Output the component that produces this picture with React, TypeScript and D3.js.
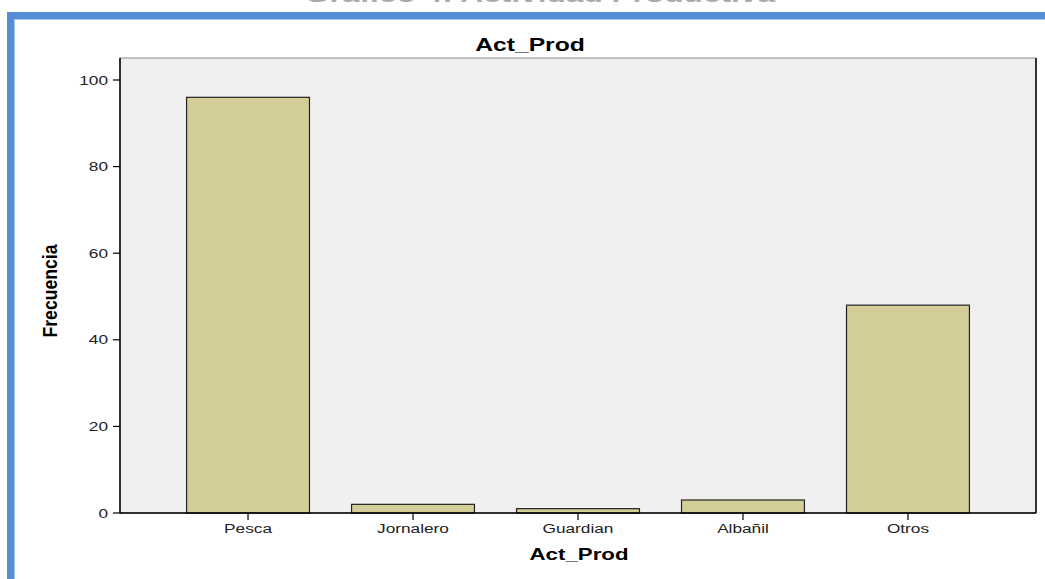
import React from "react";
import * as d3 from "d3";

const categories = ["Pesca", "Jornalero", "Guardian", "Albañil", "Otros"];
const frequencies = [96, 2, 1, 3, 48];
const yTicks = [0, 20, 40, 60, 80, 100];
const chartTitle = "Act_Prod";
const xTitle = "Act_Prod";
const yTitle = "Frecuencia";
const pageTitle = "Gráfico 4: Actividad Productiva";

export default function App() {
  const W = 1045, H = 579;
  const left = 120, right = 1036, top = 58, bottom = 513;
  const x = d3.scaleBand<string>().domain(categories).range([left, right]).paddingInner(0.255).paddingOuter(0.4035);
  const y = d3.scaleLinear().domain([0, 100]).range([bottom, 80]);
  const font = "Arial, 'Liberation Sans', sans-serif";
  const sx = 1.38;
  return (
    <svg width={W} height={H} style={{ position: "absolute", left: 0, top: 0, background: "#fff" }}>
      <text x={540} y={1.5} textAnchor="middle" textLength={470} lengthAdjust="spacingAndGlyphs" fontFamily={font} fontSize={20} fontWeight="bold" fill="#aaa">{pageTitle}</text>
      <rect x={7} y={12} width={W} height={7} fill="#558ED5" />
      <rect x={7} y={12} width={7} height={H} fill="#558ED5" />
      <rect x={14} y={19} width={W} height={1} fill="#A9C6EC" />
      <rect x={14} y={19} width={1} height={H} fill="#A9C6EC" />
      <g transform={`translate(530,51) scale(1.3,1)`}>
        <text x={0} y={0} textAnchor="middle" fontFamily={font} fontSize={19} fontWeight="bold" fill="#000">{chartTitle}</text>
      </g>
      <rect x={left} y={top} width={right - left} height={bottom - top} fill="#F0F0F0" stroke="#8a8a8a" strokeWidth={1} />
      <line x1={right} y1={top} x2={right} y2={bottom} stroke="#333" strokeWidth={2} />
      {categories.map((c, i) => (
        <rect key={c} x={x(c)} y={y(frequencies[i])} width={x.bandwidth()} height={bottom - y(frequencies[i])}
          fill="#D3CE97" stroke="#222" strokeWidth={1.2} />
      ))}
      <line x1={left} y1={top} x2={left} y2={bottom} stroke="#000" strokeWidth={1.5} />
      <line x1={left} y1={bottom} x2={right} y2={bottom} stroke="#000" strokeWidth={1.5} />
      {yTicks.map(t => (
        <g key={t}>
          <line x1={113} x2={left} y1={y(t)} y2={y(t)} stroke="#000" strokeWidth={1.2} />
          <g transform={`translate(108,${y(t) + 4.5}) scale(${sx},1)`}>
            <text x={0} y={0} textAnchor="end" fontFamily={font} fontSize={12.5} fill="#222">{t}</text>
          </g>
        </g>
      ))}
      {categories.map(c => {
        const cx = (x(c) as number) + x.bandwidth() / 2;
        return (
          <g key={c}>
            <line x1={cx} x2={cx} y1={bottom} y2={520} stroke="#000" strokeWidth={1.2} />
            <g transform={`translate(${cx},533) scale(${sx},1)`}>
              <text x={0} y={0} textAnchor="middle" fontFamily={font} fontSize={12.5} fill="#222">{c}</text>
            </g>
          </g>
        );
      })}
      <g transform={`translate(579,560) scale(1.35,1)`}>
        <text x={0} y={0} textAnchor="middle" fontFamily={font} fontSize={16.5} fontWeight="bold" fill="#000">{xTitle}</text>
      </g>
      <text transform="translate(57,291) rotate(-90)" textAnchor="middle" textLength={93} lengthAdjust="spacingAndGlyphs" fontFamily="'Liberation Sans Narrow', 'Arial Narrow', Arial, sans-serif" fontSize={20} fontWeight="bold" fill="#000">{yTitle}</text>
    </svg>
  );
}
